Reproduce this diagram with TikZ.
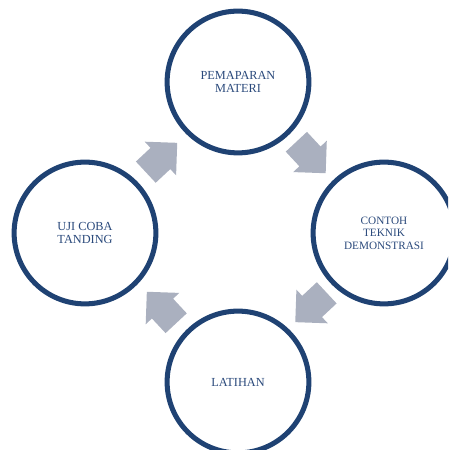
\documentclass[tikz,border=0pt]{standalone}
\usepackage{fontspec}
\setmainfont{Liberation Serif}
\usetikzlibrary{calc}
\definecolor{ringblue}{HTML}{1F4273}
\definecolor{textblue}{HTML}{2B4A7C}
\definecolor{arrowgray}{HTML}{AAB0BF}
\tikzset{
	phase/.style      = {shape=circle, draw=ringblue, line width=4.3pt,
		minimum size=121pt, inner sep=0pt, align=center,
		fill=white, text=textblue},
	smallphase/.style = {phase, font=\fontsize{9.6}{10.8}\selectfont},
	% block arrow pointing right, centred on the origin
	cyclearrow/.pic   = {
		\fill [arrowgray] (-21.5,-14.5) -- (-1.5,-14.5) -- (-1.5,-23)
			-- (21.5,0) -- (-1.5,23) -- (-1.5,14.5) -- (-21.5,14.5) -- cycle;
	}
}

\begin{document}
\begin{tikzpicture}
[
x                 = 0.03cm,
y                 = 0.03cm,
every node/.style = {font=\fontsize{10.5}{10.8}\selectfont}
]
\useasboundingbox (0,0) rectangle (448,450);
\clip (0,0) rectangle (448,450);
% the four steps of the cycle
\node [phase]      (pemaparan) at (238,368) {PEMAPARAN\\MATERI};
\node [smallphase] (contoh)    at (384,217) {CONTOH\\TEKNIK\\DEMONSTRASI};
\node [phase]      (latihan)   at (238,68)  {LATIHAN};
\node [phase]      (uji)       at (85,217)  {UJI COBA\\TANDING};
% arrows between neighbouring steps, clockwise
\pic [rotate=43]   at ($(uji)!0.5!(pemaparan)$)    {cyclearrow};
\pic [rotate=-47]  at ($(pemaparan)!0.5!(contoh)$) {cyclearrow};
\pic [rotate=-137] at ($(contoh)!0.5!(latihan)$)   {cyclearrow};
\pic [rotate=133]  at ($(latihan)!0.5!(uji)$)      {cyclearrow};
\end{tikzpicture}
\end{document}
